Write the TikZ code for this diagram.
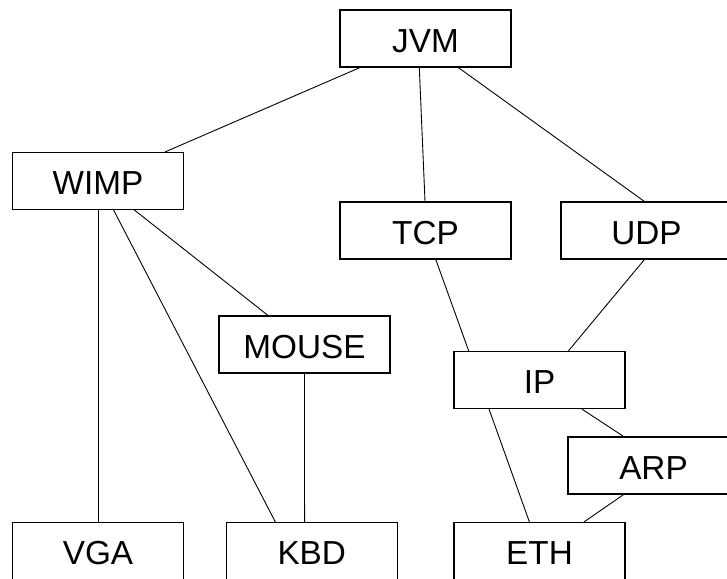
\documentclass[tikz,border=0pt]{standalone}
\usepackage{fontspec}
\setmainfont{Liberation Sans}
\begin{document}
\begin{tikzpicture}[x=1pt,y=-1pt,
  box/.style={draw=black,line width=1.1pt,fill=white,minimum width=171pt,minimum height=57pt,inner sep=0pt,
    text height=27.4pt,text depth=0pt,font=\fontsize{33.3}{40}\selectfont},
  edge/.style={draw=black,line width=0.9pt}]
\useasboundingbox (0,0) rectangle (727,578);
\node[box] (jvm)   at (425.5,38.5) {JVM};
\node[box] (wimp)  at (98,181) {WIMP};
\node[box] (tcp)   at (425.5,230.5) {TCP};
\node[box] (udp)   at (646.5,230.5) {UDP};
\node[box] (mouse) at (304.5,344.5) {MOUSE};
\node[box] (ip)    at (539.5,380) {IP};
\node[box] (arp)   at (653.5,465.5) {ARP};
\node[box] (vga)   at (98,551) {VGA};
\node[box] (kbd)   at (311.75,551) {KBD};
\node[box] (eth)   at (539.5,551) {ETH};
\draw[edge] ([xshift=-65.5pt]jvm.south) -- ([xshift=67pt]wimp.north);
\draw[edge] ([xshift=-6.2pt]jvm.south) -- ([xshift=-0.5pt]tcp.north);
\draw[edge] ([xshift=32.8pt]jvm.south) -- ([xshift=-2.1pt]udp.north);
\draw[edge] (wimp.south) -- (vga.north);
\draw[edge] ([xshift=15.6pt]wimp.south) -- ([xshift=-36.4pt]kbd.north);
\draw[edge] ([xshift=36.4pt]wimp.south) -- ([xshift=-36.5pt]mouse.north);
\draw[edge] (mouse.south) -- ([xshift=-7.2pt]kbd.north);
\draw[edge] ([xshift=10.3pt]tcp.south) -- ([xshift=-70.8pt]ip.north);
\draw[edge] ([xshift=-2.1pt]udp.south) -- ([xshift=28.9pt]ip.north);
\draw[edge] ([xshift=42.3pt]ip.south) -- ([xshift=-29.9pt]arp.north);
\draw[edge] ([xshift=-50.5pt]ip.south) -- ([xshift=-10.1pt]eth.north);
\draw[edge] ([xshift=-29.9pt]arp.south) -- ([xshift=44.5pt]eth.north);
\end{tikzpicture}
\end{document}
